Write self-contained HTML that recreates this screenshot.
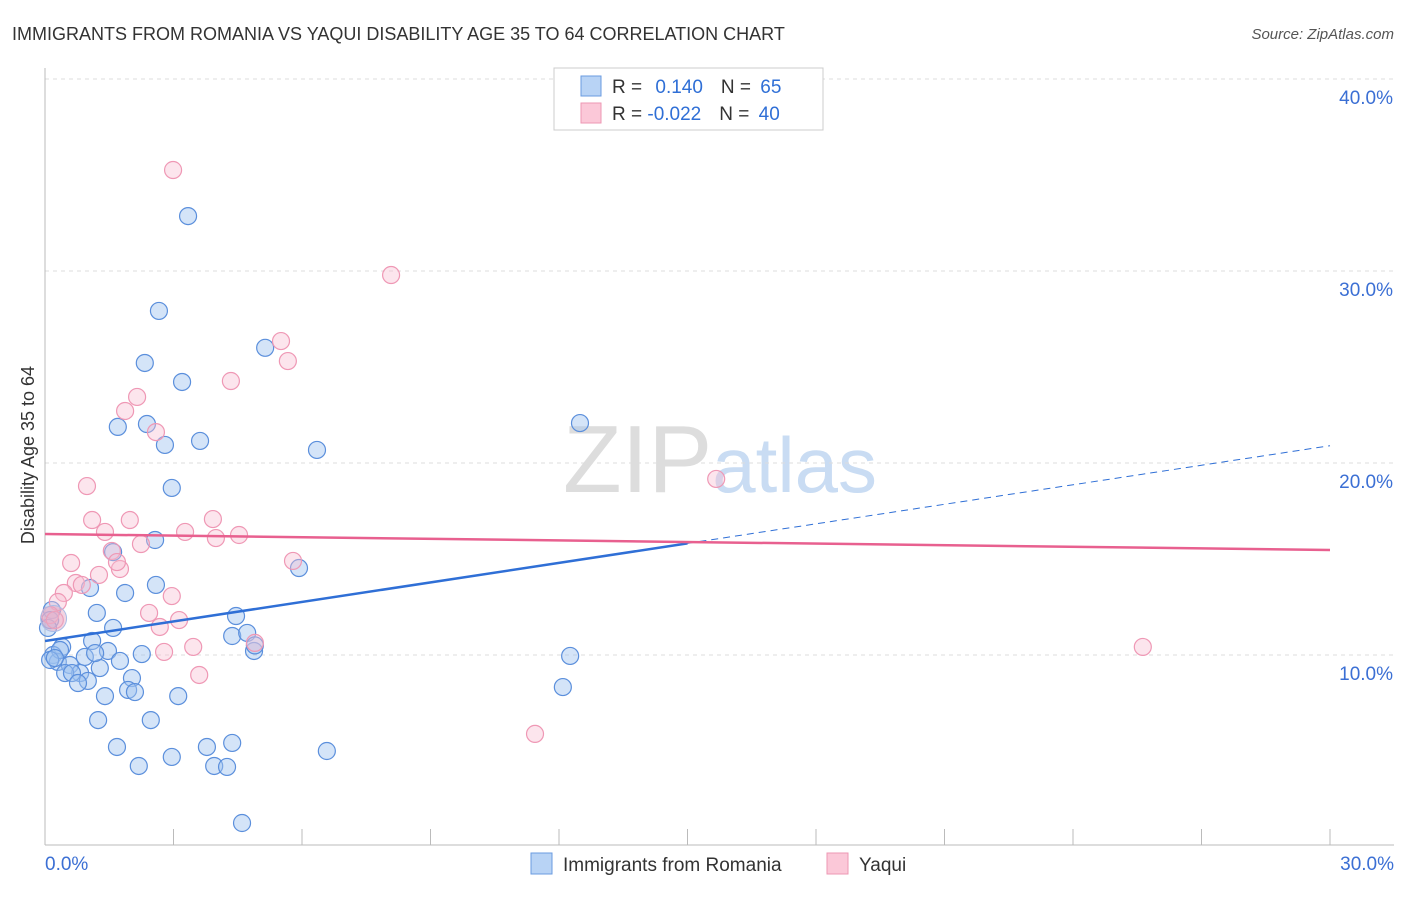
<!DOCTYPE html>
<html><head><meta charset="utf-8"><style>
body{margin:0;background:#fff;font-family:"Liberation Sans",sans-serif;}
svg text{font-family:"Liberation Sans",sans-serif;}
</style></head><body>
<svg id="c" width="1406" height="892" xmlns="http://www.w3.org/2000/svg">
<text x="12" y="40" font-size="18" fill="#333">IMMIGRANTS FROM ROMANIA VS YAQUI DISABILITY AGE 35 TO 64 CORRELATION CHART</text>
<text x="1394" y="39" font-size="15" fill="#555" font-style="italic" text-anchor="end">Source: ZipAtlas.com</text>
<text x="34" y="455" font-size="18" fill="#333" text-anchor="middle" transform="rotate(-90 34 455)">Disability Age 35 to 64</text>
<text x="720" y="492" font-size="96" fill="#ddd" text-anchor="middle" font-family="Liberation Serif">ZIP<tspan fill="#c9dcf3" font-family="Liberation Sans" font-size="78">atlas</tspan></text>
<g id="grid"></g><g id="axes"></g><g id="pts"></g><g id="lines"></g>
<g>
<rect x="554" y="68" width="269" height="62" fill="#fff" stroke="#ccc"/>
<rect x="581" y="76" width="20" height="20" fill="#b8d3f5" stroke="#6a9be0"/>
<rect x="581" y="103" width="20" height="20" fill="#fbc8d8" stroke="#ee97b3"/>
<text x="612" y="93" font-size="19" fill="#333">R = <tspan fill="#2f6fd6" dx="8">0.140</tspan><tspan dx="18" fill="#333">N = </tspan><tspan fill="#2f6fd6" dx="4">65</tspan></text>
<text x="612" y="120" font-size="19" fill="#333">R = <tspan fill="#2f6fd6">-0.022</tspan><tspan dx="18" fill="#333">N = </tspan><tspan fill="#2f6fd6" dx="4">40</tspan></text>
</g>
<g>
<rect x="531" y="853" width="21" height="21" fill="#b8d3f5" stroke="#6a9be0"/>
<text x="563" y="871" font-size="19" fill="#333">Immigrants from Romania</text>
<rect x="827" y="853" width="21" height="21" fill="#fbc8d8" stroke="#ee97b3"/>
<text x="859" y="871" font-size="19" fill="#333">Yaqui</text>
</g>
</svg>
<script>
const blueX=[3.34,2.66,2.33,5.14,3.20,1.70,2.38,2.80,3.62,6.35,12.49,2.96,2.57,1.59,1.05,1.87,2.59,1.21,4.46,1.59,0.16,0.12,4.37,4.72,1.10,0.40,0.19,0.30,0.58,0.93,1.47,2.26,1.75,1.28,0.82,0.47,0.63,1.00,0.77,2.03,1.94,2.10,1.40,3.11,4.88,12.26,12.09,1.24,2.47,1.68,3.78,4.37,2.96,2.19,3.95,4.25,6.58,4.60,5.93,0.35,0.12,0.23,0.07,1.17,4.9];
const blueY=[32.86,27.92,25.21,26.0,24.22,21.88,22.03,20.94,21.15,20.68,22.08,18.7,15.99,15.36,13.49,13.23,13.65,12.19,12.03,11.41,12.34,11.82,10.99,11.15,10.73,10.42,10.0,9.64,9.48,9.90,10.21,10.05,9.69,9.32,9.06,9.06,9.06,8.65,8.54,8.80,8.18,8.07,7.86,7.86,10.21,9.95,8.33,6.61,6.61,5.21,5.21,5.42,4.69,4.22,4.22,4.17,5.0,1.25,14.53,10.26,9.74,9.84,11.41,10.10,10.5];
const pinkX=[2.99,8.08,5.51,5.67,4.34,2.15,1.87,2.59,15.67,0.98,1.10,1.98,1.40,3.27,3.92,3.99,4.53,2.24,1.56,1.75,0.61,1.26,0.72,0.44,0.86,0.30,2.43,3.13,2.68,3.46,2.78,3.60,4.90,5.79,25.63,11.44,2.96,0.12,0.23,1.68];
const pinkY=[35.26,29.79,26.35,25.31,24.27,23.44,22.71,21.61,19.17,18.8,17.03,17.03,16.41,16.41,17.08,16.09,16.25,15.78,15.42,14.48,14.79,14.17,13.75,13.23,13.65,12.76,12.19,11.82,11.46,10.42,10.16,8.96,10.63,14.9,10.42,5.89,13.07,12.08,11.82,14.84];
const yTicks=[10,20,30,40];
const xTickLabels=["0.0%","30.0%"];
const blueFit=[10.73,20.9];
const pinkFit=[16.3,15.47];
const NS="http://www.w3.org/2000/svg";
const sx=v=>45+v/30*1285, sy=v=>847-v*19.2;
function mk(t,a,p){const e=document.createElementNS(NS,t);for(const k in a)e.setAttribute(k,a[k]);p.appendChild(e);return e;}
const grid=document.getElementById('grid'),axes=document.getElementById('axes'),pts=document.getElementById('pts'),lines=document.getElementById('lines');
yTicks.forEach(t=>{
 const l=mk('line',{x1:45,x2:1394,y1:sy(t),y2:sy(t),stroke:'#ddd','stroke-dasharray':'4 4'},grid);
 
 
 const tx=mk('text',{x:1393,y:sy(t)+25,'font-size':19,fill:'#3b6fd4','text-anchor':'end'},axes);
 tx.textContent=t.toFixed(1)+'%';
 
 
});
const ax=mk('line',{x1:45,x2:1394,y1:845,y2:845,stroke:'#bbb'},axes);


const ay=mk('line',{x1:45,x2:45,y1:68,y2:845,stroke:'#bbb'},axes);


for(let i=0;i<=30;i+=3){const t=mk('line',{x1:sx(i),x2:sx(i),y1:829,y2:845,stroke:'#bbb'},axes);
 
 }
[[0,'start',45],[30,'end',1394]].forEach((d,i)=>{const t=mk('text',{x:d[2],y:870,'font-size':19,fill:'#3b6fd4','text-anchor':d[1]},axes);t.textContent=xTickLabels[i];
 
 });
blueX.forEach((x,i)=>{const c=mk('circle',{cx:sx(x),cy:sy(blueY[i]),r:8.5,fill:'rgba(160,196,240,0.45)',stroke:'#5b8fdc','stroke-width':1.2},pts);
 
 });
pinkX.forEach((x,i)=>{const c=mk('circle',{cx:sx(x),cy:sy(pinkY[i]),r:8.5,fill:'rgba(248,190,210,0.4)',stroke:'#ef98b5','stroke-width':1.2},pts);
 
 });
const big=mk('circle',{cx:sx(0.2),cy:sy(11.9),r:13,fill:'rgba(230,170,195,0.5)',stroke:'#a9bde6'},pts);


const bf=x=>blueFit[0]+(blueFit[1]-blueFit[0])*x/30;
const b1=mk('line',{x1:sx(0),y1:sy(bf(0)),x2:sx(15),y2:sy(bf(15)),stroke:'#2f6fd6','stroke-width':2.5},lines);


const b2=mk('line',{x1:sx(15),y1:sy(bf(15)),x2:sx(30),y2:sy(bf(30)),stroke:'#2f6fd6','stroke-width':1,'stroke-dasharray':'7 5'},lines);


const p1=mk('line',{x1:sx(0),y1:sy(pinkFit[0]),x2:sx(30),y2:sy(pinkFit[1]),stroke:'#e8608f','stroke-width':2.5},lines);


</script>
</body></html>
